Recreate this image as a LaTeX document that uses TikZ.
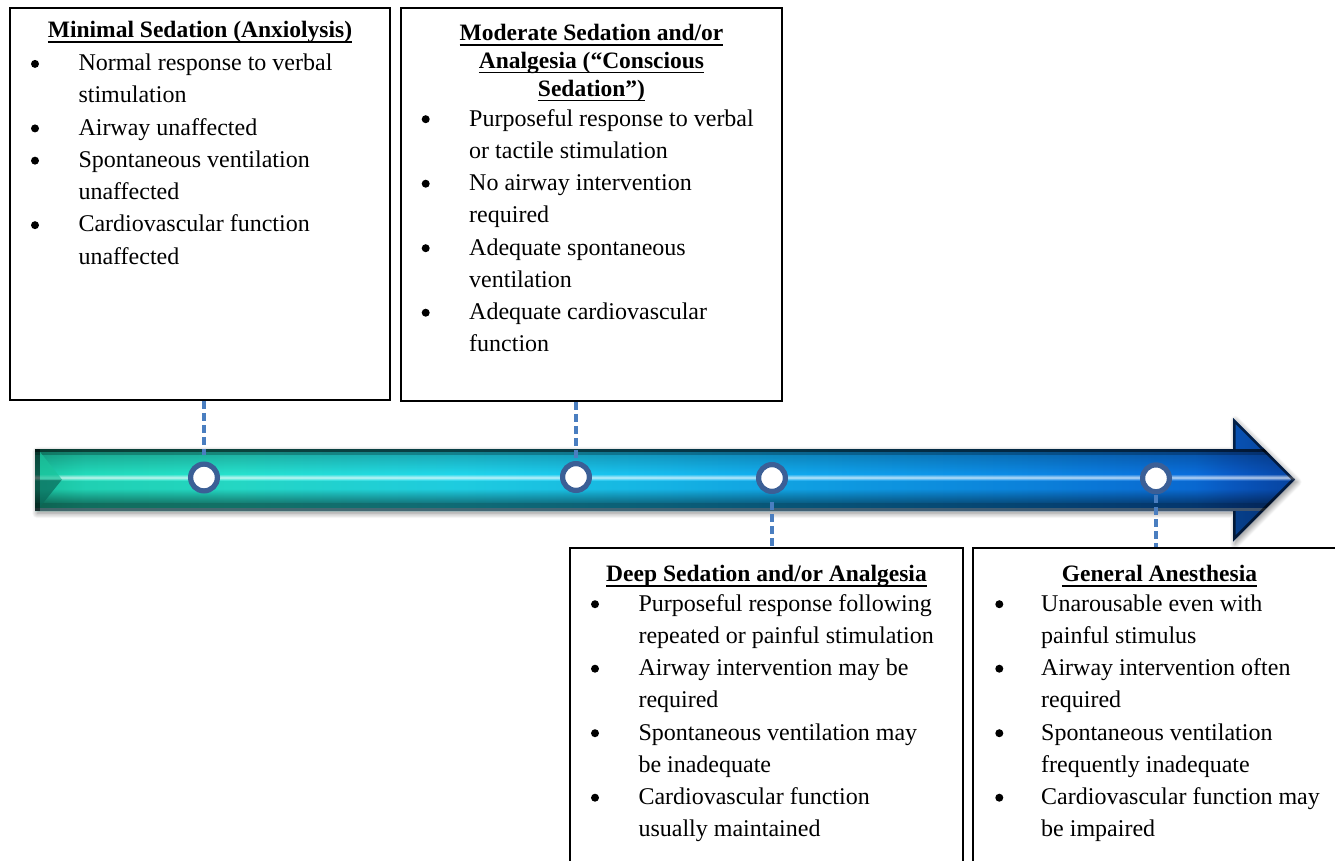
\documentclass[tikz,border=0pt]{standalone}
\usepackage{fontspec}
\setmainfont{Liberation Serif}
\usetikzlibrary{shadows.blur}

\definecolor{ringblue}{HTML}{3B5F96}
\definecolor{dashblue}{HTML}{4A7EC0}
\definecolor{tA}{HTML}{1CC8A4}
\definecolor{tB}{HTML}{22DCBC}
\definecolor{tC}{HTML}{26E2CE}
\definecolor{tD}{HTML}{20D6EC}
\definecolor{tE}{HTML}{18C0F0}
\definecolor{tF}{HTML}{10A6EE}
\definecolor{tG}{HTML}{0C8AE6}
\definecolor{tH}{HTML}{0A6EDC}
\definecolor{tI}{HTML}{0A5CC8}
\definecolor{tJ}{HTML}{0846A8}
\definecolor{bevelhi}{HTML}{1BC49C}
\definecolor{bevello}{HTML}{0A6A5A}
\definecolor{tubeedge}{HTML}{4A5560}

% colour run along the tube, fitted to its bounding box (25bp .. 75bp)
\pgfdeclarehorizontalshading{tube}{100bp}{%
  color(0bp)=(tA); color(25bp)=(tA); color(27bp)=(tB); color(33bp)=(tC);
  color(42bp)=(tD); color(49bp)=(tE); color(56bp)=(tF); color(64bp)=(tG);
  color(71bp)=(tH); color(72.5bp)=(tI); color(75bp)=(tJ); color(100bp)=(tJ)}

\newcommand\ulhead[1]{\setbox0\hbox{#1}\rlap{\rule[-5.1pt]{\wd0}{1.4pt}}\box0}
\newenvironment{pointlist}{\begin{tabular}[t]{@{}l@{}}}{\end{tabular}}
\def\arrowpath{(35,449) -- (1233,449) -- (1233,418) -- (1295,479.5) -- (1233,541.5) -- (1233,511) -- (35,511) -- cycle}

\begin{document}
\begin{tikzpicture}[x=1pt,y=-1pt,
  panel/.style={draw=black, line width=1.8pt, fill=white, inner sep=0pt},
  head/.style={inner sep=0pt, anchor=base, font=\bfseries\fontsize{23.5}{27.65}\selectfont},
  items/.style={inner sep=0pt, anchor=base west, font=\fontsize{24}{32.25}\selectfont},
  marker/.style={circle, draw=ringblue, line width=5.2pt, fill=white, minimum size=26.8pt, inner sep=0pt},
  leader/.style={draw=dashblue, line width=3.2pt, dash pattern=on 8pt off 4pt},
  dot/.style={fill=black}]
\useasboundingbox (0,0) rectangle (1335,860);
\clip (0,0) rectangle (1335,860);

% ---- the timeline arrow ----
\path[blur shadow={shadow xshift=2pt, shadow yshift=-2.5pt, shadow blur radius=5pt, shadow opacity=45, shadow blur steps=12}] \arrowpath;
\shade[shading=tube] \arrowpath;
\begin{scope}
  \clip \arrowpath;
  % tube relief across the shaft
  \fill[black, opacity=.7] (30,449) rectangle (1300,452);
  \fill[black, opacity=.4] (30,452) rectangle (1300,455);
  \foreach \k in {0,...,19}
    \fill[black, opacity={0.2*(19-\k)/19}] (30,455+\k) rectangle (1300,456+\k);
  \fill[white, opacity=.2] (30,475) rectangle (1300,476);
  \fill[white, opacity=.4] (30,476) rectangle (1300,477);
  \fill[white, opacity=.6] (30,477) rectangle (1300,479);
  \fill[white, opacity=.35] (30,479) rectangle (1300,480);
  \fill[white, opacity=.12] (30,480) rectangle (1300,481);
  \fill[black, opacity=.05] (30,481) rectangle (1300,489);
  \foreach \k in {0,...,13}
    \fill[black, opacity={0.06+0.36*\k/13}] (30,489+\k) rectangle (1300,490+\k);
  \fill[black, opacity=.5] (30,503) rectangle (1300,508);
  \fill[tubeedge, opacity=.85] (30,508) rectangle (1300,511);
  % darker head flanks
  \fill[black, opacity=.1] (1233,400) rectangle (1300,449);
  \fill[black, opacity=.3] (1233,511) rectangle (1300,545);
  % bevelled left end
  \fill[black, opacity=.55] (30,449) rectangle (40,511);
  \fill[bevelhi, opacity=.7] (40,452) -- (62,479.5) -- (40,479.5) -- cycle;
  \fill[bevello, opacity=.7] (40,479.5) -- (62,479.5) -- (40,507) -- cycle;
  % dark rim of the head
  \draw[black, opacity=.6, line width=5pt, line join=miter]
    (1233,449) -- (1233,418) -- (1295,479.5) -- (1233,541.5) -- (1233,511);
\end{scope}

% ---- stage boxes ----
\node[panel, minimum width=380pt, minimum height=392pt] (b1) at (200,204) {};
\node[panel, minimum width=381pt, minimum height=393pt] (b2) at (591.5,204.5) {};
\node[panel, minimum width=393pt, minimum height=352pt] (b3) at (766.5,724) {};
\node[panel, minimum width=373pt, minimum height=352pt] (b4) at (1159.5,724) {};

% ---- headings ----
\node[head] (h1) at (200,37.7) {\ulhead{Minimal Sedation (Anxiolysis)}};
\node[head] (h2) at (591.5,40.7) {\begin{tabular}[t]{@{}c@{}}\ulhead{Moderate Sedation and/or}\\ \ulhead{Analgesia (“Conscious}\\ \ulhead{Sedation”)}\end{tabular}};
\node[head] (h3) at (766.5,581.7) {\ulhead{Deep Sedation and/or Analgesia}};
\node[head] (h4) at (1159.5,581.7) {\ulhead{General Anesthesia}};

% ---- bullet lists ----
\node[items] (l1) at (78.3,70.7) {\begin{pointlist}
  Normal response to verbal\\ stimulation\\
  Airway unaffected\\
  Spontaneous ventilation\\ unaffected\\
  Cardiovascular function\\ unaffected\end{pointlist}};
\node[items] (l2) at (469,126) {\begin{pointlist}
  Purposeful response to verbal\\ or tactile stimulation\\
  No airway intervention\\ required\\
  Adequate spontaneous\\ ventilation\\
  Adequate cardiovascular\\ function\end{pointlist}};
\node[items] (l3) at (638.3,611) {\begin{pointlist}
  Purposeful response following\\ repeated or painful stimulation\\
  Airway intervention may be\\ required\\
  Spontaneous ventilation may\\ be inadequate\\
  Cardiovascular function\\ usually maintained\end{pointlist}};
\node[items] (l4) at (1041,611) {\begin{pointlist}
  Unarousable even with\\ painful stimulus\\
  Airway intervention often\\ required\\
  Spontaneous ventilation\\ frequently inadequate\\
  Cardiovascular function may\\ be impaired\end{pointlist}};

% bullet dots beside the first line of each point
\foreach \k in {0,2,3,5} \fill[dot] (35,{70.7+32.25*\k-6.8}) circle (4pt);
\foreach \k in {0,2,4,6} \fill[dot] (425.7,{126+32.25*\k-6.8}) circle (4pt);
\foreach \k in {0,2,4,6} \fill[dot] (595,{611+32.25*\k-6.8}) circle (4pt);
\foreach \k in {0,2,4,6} \fill[dot] (999.3,{611+32.25*\k-6.8}) circle (4pt);

% ---- markers on the arrow ----
\node[marker] (c1) at (204,477.5) {};
\node[marker] (c2) at (576,477) {};
\node[marker] (c3) at (772,478) {};
\node[marker] (c4) at (1156,478.3) {};

% ---- dashed leaders ----
\coordinate (e1) at (204,455);
\coordinate (e2) at (576,460);
\coordinate (e3) at (772,502);
\coordinate (e4) at (1156,495);
\draw[leader] (b1.south -| c1) -- (e1);
\draw[leader] (b2.south -| c2) -- (e2);
\draw[leader] (e3) -- (b3.north -| c3);
\draw[leader] (e4) -- (b4.north -| c4);
\end{tikzpicture}
\end{document}
